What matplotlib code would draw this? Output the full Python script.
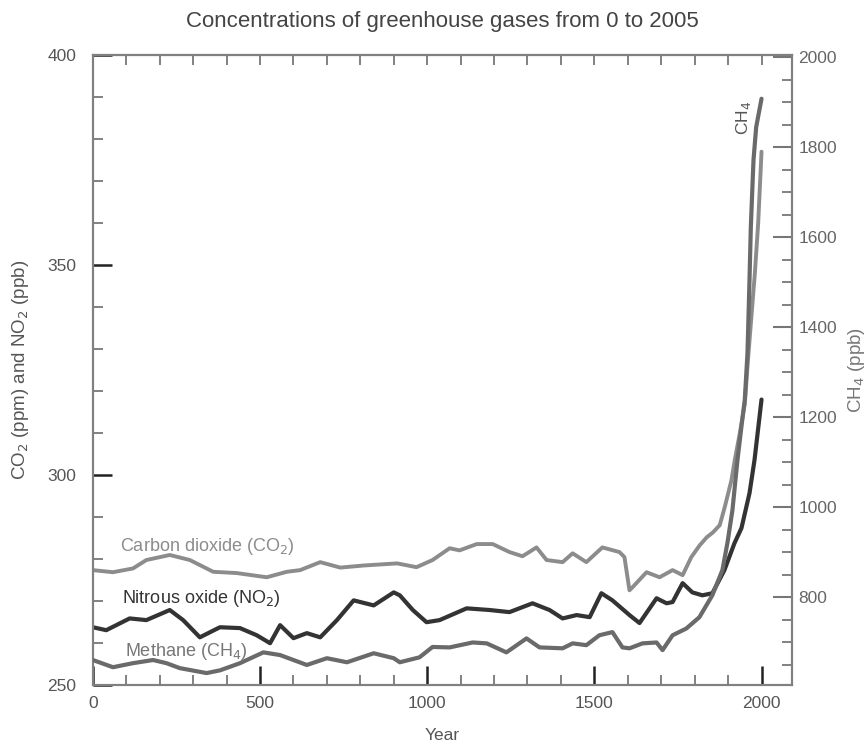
import matplotlib.pyplot as plt
from matplotlib.ticker import MultipleLocator

plt.rcParams["font.family"] = ["Liberation Sans", "DejaVu Sans"]

# values
co2_years = [0, 60, 120, 160, 230, 290, 360, 430, 520, 580, 620, 680, 740, 810, 910,
             968, 1016, 1067, 1097, 1148, 1196, 1246, 1285, 1327, 1357, 1405, 1435,
             1476, 1524, 1575, 1590, 1605, 1614, 1656, 1695, 1734, 1764, 1790, 1815,
             1836, 1855, 1875, 1890, 1910, 1920, 1935, 1950, 1960, 1970, 1980, 1990, 2000]
co2_ppm = [277.4, 276.9, 277.8, 279.8, 281.0, 279.8, 277.0, 276.7, 275.7, 277.0, 277.4,
           279.3, 278.0, 278.5, 279.0, 278.1, 279.8, 282.6, 282.1, 283.6, 283.6, 281.7,
           280.7, 282.8, 279.8, 279.3, 281.4, 279.3, 282.8, 281.7, 280.5, 272.6, 273.3,
           276.9, 275.7, 277.4, 276.2, 280.5, 283.3, 285.2, 286.4, 288.1, 292.4, 298.8,
           303.6, 310.0, 317.0, 328.0, 338.0, 348.0, 360.0, 377.0]

n2o_years = [0, 40, 110, 160, 230, 270, 320, 380, 440, 490, 530, 560, 600, 640, 680,
             730, 780, 840, 900, 918, 957, 998, 1037, 1118, 1187, 1246, 1315, 1366,
             1405, 1447, 1486, 1521, 1554, 1605, 1635, 1686, 1716, 1734, 1764, 1793,
             1823, 1853, 1889, 1919, 1940, 1964, 1979, 2000]
n2o_ppb = [263.8, 263.1, 265.9, 265.5, 267.9, 265.5, 261.4, 263.8, 263.6, 261.9, 260.0,
           264.3, 261.2, 262.4, 261.4, 265.5, 270.2, 269.0, 272.1, 271.4, 267.9, 265.0,
           265.5, 268.3, 267.9, 267.4, 269.5, 267.9, 265.9, 266.7, 266.2, 271.9, 270.2,
           266.7, 264.8, 270.7, 269.5, 269.8, 274.3, 272.1, 271.4, 271.9, 277.4, 283.8,
           287.4, 295.7, 303.6, 318.0]

ch4_years = [0, 60, 120, 180, 220, 260, 340, 380, 440, 510, 560, 640, 700, 760, 840,
             900, 918, 977, 1016, 1067, 1136, 1178, 1237, 1297, 1336, 1405, 1435, 1476,
             1515, 1554, 1584, 1605, 1644, 1686, 1704, 1734, 1775, 1814, 1853, 1883,
             1898, 1913, 1928, 1940, 1950, 1958, 1964, 1968, 1972, 1976, 1984, 2000]
ch4_ppb = [661, 645, 654, 661, 654, 643, 632, 638, 654, 678, 672, 650, 665, 656, 676,
           665, 656, 667, 690, 689, 700, 698, 678, 709, 689, 687, 698, 694, 716, 723,
           689, 687, 698, 700, 683, 716, 731, 756, 805, 861, 921, 994, 1105, 1180, 1240,
           1343, 1505, 1623, 1698, 1772, 1845, 1908]

fig = plt.figure(figsize=(8.68, 7.44), dpi=100)
ax = fig.add_axes([0.107, 0.079, 0.805, 0.847])
ax2 = ax.twinx()

ax.plot(co2_years, co2_ppm, color="#8c8c8c", lw=2.8, solid_capstyle="round", zorder=3)
ax.plot(n2o_years, n2o_ppb, color="#333333", lw=3.0, solid_capstyle="round", zorder=4)
ax2.plot(ch4_years, ch4_ppb, color="#6a6a6a", lw=3.0, solid_capstyle="round", zorder=3)

ax.set_xlim(0, 2090)
ax.set_ylim(250, 400)
ax2.set_ylim(605, 2005)

spine_col = "#808080"
for a in (ax, ax2):
    for s in a.spines.values():
        s.set_color(spine_col)
        s.set_linewidth(1.5)

ax.xaxis.set_major_locator(MultipleLocator(500))
ax.xaxis.set_minor_locator(MultipleLocator(100))
ax.set_yticks([250, 300, 350, 400])
ax.yaxis.set_minor_locator(MultipleLocator(10))
ax.tick_params(axis="both", which="major", direction="in", length=14, width=1.8,
               color="#222222", labelsize=12.5, labelcolor="#555555")
ax.tick_params(axis="both", which="minor", direction="in", length=7, width=1.3,
               color="#777777")
ax.tick_params(axis="x", which="both", top=False, pad=8)
ax.tick_params(axis="y", which="both", pad=12)

top = ax.secondary_xaxis("top")
top.set_xticks(range(100, 2100, 100))
top.tick_params(direction="in", length=7, width=1.3, color="#777777", labeltop=False)
top.spines["top"].set_color(spine_col)
top.spines["top"].set_linewidth(1.5)

ax2.set_yticks(range(800, 2001, 200))
ax2.yaxis.set_minor_locator(MultipleLocator(50))
ax2.tick_params(axis="y", which="major", direction="in", length=14, width=1.5,
                color="#777777", labelsize=12.5, labelcolor="#666666", pad=5)
ax2.tick_params(axis="y", which="minor", direction="in", length=7, width=1.3,
                color="#777777")

ax.set_xlabel("Year", fontsize=12.5, color="#555555", labelpad=12)
ax.set_ylabel("CO$_2$ (ppm) and NO$_2$ (ppb)", fontsize=13.5, color="#555555",
              labelpad=12)
ax2.set_ylabel("CH$_4$ (ppb)", fontsize=13.5, color="#777777", labelpad=6)

ax.text(80, 282, "Carbon dioxide (CO$_2$)", fontsize=13, color="#8c8c8c")
ax.text(87, 269.5, "Nitrous oxide (NO$_2$)", fontsize=13, color="#333333")
ax.text(96, 257, "Methane (CH$_4$)", fontsize=13, color="#777777")
ax.text(1945, 385, "CH$_4$", fontsize=12.5, color="#555555", rotation=90,
        ha="center", va="center")

fig.suptitle("Concentrations of greenhouse gases from 0 to 2005", fontsize=16,
             color="#444444", x=0.51, y=0.985)

fig.savefig("out.png", dpi=100)
